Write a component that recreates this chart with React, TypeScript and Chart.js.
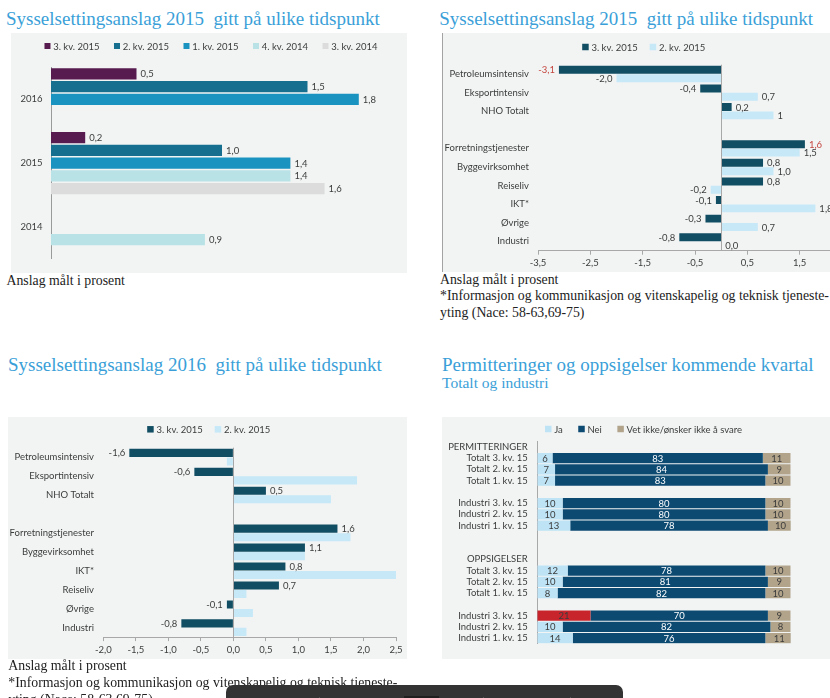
import { useEffect, useRef } from "react";
import { Chart, registerables } from "chart.js";

Chart.register(...registerables);

// ---------------- Chart 1: Sysselsettingsanslag 2015 (vertical groups by year)
const c1Categories = ["2016", "2015", "2014"];
const c1SeriesNames = ["3. kv. 2015", "2. kv. 2015", "1. kv. 2015", "4. kv. 2014", "3. kv. 2014"];
const c1Kv3_2015 = [0.5, 0.2, null];
const c1Kv2_2015 = [1.5, 1.0, null];
const c1Kv1_2015 = [1.8, 1.4, null];
const c1Kv4_2014 = [null, 1.4, 0.9];
const c1Kv3_2014 = [null, 1.6, null];

// ---------------- Chart 2: Sysselsettingsanslag 2015 by sector
const c2Categories = [
  "Petroleumsintensiv", "Eksportintensiv", "NHO Totalt", "",
  "Forretningstjenester", "Byggevirksomhet", "Reiseliv", "IKT*", "Øvrige", "Industri",
];
const c2SeriesNames = ["3. kv. 2015", "2. kv. 2015"];
const c2Kv3 = [-3.1, -0.4, 0.2, null, 1.6, 0.8, 0.8, -0.1, -0.3, -0.8];
const c2Kv2 = [-2.0, 0.7, 1.0, null, 1.5, 1.0, -0.2, 1.8, 0.7, 0.0];
const c2Kv3Labels = ["-3,1", "-0,4", "0,2", "", "1,6", "0,8", "0,8", "-0,1", "-0,3", "-0,8"];
const c2Kv2Labels = ["-2,0", "0,7", "1", "", "1,5", "1,0", "-0,2", "1,8", "0,7", "0,0"];
const c2Kv3RedLabel = [true, false, false, false, true, false, false, false, false, false];
const c2TickValues = [-3.5, -2.5, -1.5, -0.5, 0.5, 1.5, 2.5];

// ---------------- Chart 3: Sysselsettingsanslag 2016 by sector
const c3Categories = [
  "Petroleumsintensiv", "Eksportintensiv", "NHO Totalt", "",
  "Forretningstjenester", "Byggevirksomhet", "IKT*", "Reiseliv", "Øvrige", "Industri",
];
const c3SeriesNames = ["3. kv. 2015", "2. kv. 2015"];
const c3Kv3 = [-1.6, -0.6, 0.5, null, 1.6, 1.1, 0.8, 0.7, -0.1, -0.8];
const c3Kv2 = [-0.1, 1.9, 1.5, null, 1.8, 1.1, 2.5, 0.2, 0.3, 0.2];

// ---------------- Chart 4: Permitteringer og oppsigelser
const c4Categories = [
  "PERMITTERINGER", "Totalt 3. kv. 15", "Totalt 2. kv. 15", "Totalt 1. kv. 15", "",
  "Industri 3. kv. 15", "Industri 2. kv. 15", "Industri 1. kv. 15", "", "",
  "OPPSIGELSER", "Totalt 3. kv. 15", "Totalt 2. kv. 15", "Totalt 1. kv. 15", "",
  "Industri 3. kv. 15", "Industri 2. kv. 15", "Industri 1. kv. 15",
];
const c4SeriesNames = ["Ja", "Nei", "Vet ikke/ønsker ikke å svare"];
const c4Ja = [null, 6, 7, 7, null, 10, 10, 13, null, null, null, 12, 10, 8, null, 21, 10, 14];
const c4Nei = [null, 83, 84, 83, null, 80, 80, 78, null, null, null, 78, 81, 82, null, 70, 82, 76];
const c4Vet = [null, 11, 9, 10, null, 10, 10, 10, null, null, null, 10, 9, 10, null, 9, 8, 11];
const c4JaHighlight = [false, false, false, false, false, false, false, false, false, false,
  false, false, false, false, false, true, false, false];

// ---------------- styles
const TITLE_BLUE = "#3a9fd8";
const PANEL_BG = "#f2f4f4";
const TEXT = "#3c3c3c";
const SANS = "Lato, 'Open Sans', sans-serif";
const SERIF = "'Liberation Serif', 'Times New Roman', serif";
const FONT_PX = 9.5;
const CANVAS_FONT = `${FONT_PX}px ${SANS}`;

const c1Colors = ["#571b50", "#176f8f", "#1a93c0", "#b8e2e6", "#dcdcdc"];
const DARK_TEAL = "#114e63";
const LIGHT_BLUE = "#c6e8f7";
const JA_COLOR = "#bde3f5";
const NEI_COLOR = "#0c4a72";
const VET_COLOR = "#b1a48b";
const RED = "#c8242c";
const LABEL_RED = "#c4463f";

const fmt = (v: number) => v.toFixed(1).replace(".", ",");

// ---------------- plugins
function legendPlugin(cfg: { cx: number; y: number; box: number; gapText: number; gapItem: number; colors: string[] }) {
  return {
    id: "panelLegend",
    afterDraw(chart: any) {
      const ctx = chart.ctx;
      ctx.save();
      ctx.font = CANVAS_FONT;
      ctx.textBaseline = "middle";
      ctx.textAlign = "left";
      const items = chart.data.datasets.map((ds: any, i: number) => ({ text: String(ds.label), color: cfg.colors[i] }));
      const widths = items.map((it: any) => cfg.box + cfg.gapText + ctx.measureText(it.text).width);
      const total = widths.reduce((a: number, b: number) => a + b, 0) + cfg.gapItem * (items.length - 1);
      let x = cfg.cx - total / 2;
      items.forEach((it: any, i: number) => {
        ctx.fillStyle = it.color;
        ctx.fillRect(x, cfg.y - cfg.box / 2, cfg.box, cfg.box);
        ctx.fillStyle = TEXT;
        ctx.fillText(it.text, x + cfg.box + cfg.gapText, cfg.y + 0.5);
        x += widths[i] + cfg.gapItem;
      });
      ctx.restore();
    },
  };
}

function endLabelsPlugin(specs: { dataset: number; texts: string[]; colors: string[] }[], offset = 4) {
  return {
    id: "endLabels",
    afterDatasetsDraw(chart: any) {
      const ctx = chart.ctx;
      ctx.save();
      ctx.font = CANVAS_FONT;
      ctx.textBaseline = "middle";
      specs.forEach((spec) => {
        const meta = chart.getDatasetMeta(spec.dataset);
        const data = chart.data.datasets[spec.dataset].data;
        meta.data.forEach((bar: any, i: number) => {
          const v = data[i];
          const t = spec.texts[i];
          if (v == null || !t) return;
          const neg = v < 0;
          ctx.textAlign = neg ? "right" : "left";
          ctx.fillStyle = spec.colors[i];
          ctx.fillText(t, bar.x + (neg ? -offset : offset), bar.y + 0.5);
        });
      });
      ctx.restore();
    },
  };
}

function centerLabelsPlugin(colors: string[]) {
  return {
    id: "centerLabels",
    afterDatasetsDraw(chart: any) {
      const ctx = chart.ctx;
      ctx.save();
      ctx.font = CANVAS_FONT;
      ctx.textBaseline = "middle";
      ctx.textAlign = "center";
      chart.data.datasets.forEach((ds: any, di: number) => {
        const meta = chart.getDatasetMeta(di);
        meta.data.forEach((bar: any, i: number) => {
          const v = ds.data[i];
          if (v == null) return;
          ctx.fillStyle = colors[di];
          ctx.fillText(String(v), (bar.x + bar.base) / 2, bar.y + 0.5);
        });
      });
      ctx.restore();
    },
  };
}

function zeroLinePlugin(color: string) {
  return {
    id: "zeroLine",
    afterDatasetsDraw(chart: any) {
      const ctx = chart.ctx;
      const x = Math.round(chart.scales.x.getPixelForValue(0)) + 0.5;
      const { top, bottom } = chart.chartArea;
      ctx.save();
      ctx.strokeStyle = color;
      ctx.lineWidth = 1;
      ctx.beginPath();
      ctx.moveTo(x, top);
      ctx.lineTo(x, bottom);
      ctx.stroke();
      ctx.restore();
    },
  };
}

const baseOptions = {
  indexAxis: "y",
  responsive: false,
  maintainAspectRatio: false,
  animation: false,
  events: [],
  plugins: { legend: { display: false }, tooltip: { enabled: false }, title: { display: false } },
};

const catTicks = { font: { family: SANS, size: FONT_PX }, color: TEXT, autoSkip: false };

// ---------------- configs
function config1(): any {
  const series = [c1Kv3_2015, c1Kv2_2015, c1Kv1_2015, c1Kv4_2014, c1Kv3_2014];
  return {
    type: "bar",
    data: {
      labels: c1Categories,
      datasets: series.map((d, i) => ({
        label: c1SeriesNames[i],
        data: d,
        backgroundColor: c1Colors[i],
        categoryPercentage: 1,
        barPercentage: 0.88,
      })),
    },
    options: {
      ...baseOptions,
      layout: { padding: { top: 34.4, right: 14, bottom: 8.5, left: 0 } },
      scales: {
        x: { display: false, min: 0, max: 2 },
        y: {
          grid: { display: false, drawTicks: false },
          border: { display: true, color: "#9a9a9a" },
          ticks: { ...catTicks, padding: 8.5 },
          afterFit: (s: any) => { s.width = 40; },
        },
      },
    },
    plugins: [
      legendPlugin({ cx: 200, y: 13, box: 6, gapText: 2.7, gapItem: 14.5, colors: c1Colors }),
      endLabelsPlugin(series.map((d, i) => ({
        dataset: i,
        texts: d.map((v) => (v == null ? "" : fmt(v))),
        colors: d.map(() => TEXT),
      }))),
    ],
  };
}

function config2(): any {
  return {
    type: "bar",
    data: {
      labels: c2Categories,
      datasets: [
        { label: c2SeriesNames[0], data: c2Kv3, backgroundColor: DARK_TEAL, categoryPercentage: 0.9, barPercentage: 0.95 },
        { label: c2SeriesNames[1], data: c2Kv2, backgroundColor: LIGHT_BLUE, categoryPercentage: 0.9, barPercentage: 0.95 },
      ],
    },
    options: {
      ...baseOptions,
      layout: { padding: { top: 31.7, right: 10, bottom: 0, left: 0 } },
      scales: {
        x: {
          type: "linear",
          min: -3.5,
          max: 2.5,
          afterBuildTicks: (s: any) => { s.ticks = c2TickValues.map((v) => ({ value: v })); },
          ticks: { ...catTicks, padding: 3, maxRotation: 0, callback: (v: any) => fmt(Number(v)) },
          grid: { drawOnChartArea: false, drawTicks: true, tickLength: 4, color: "#a8a8a8" },
          border: { display: true, color: "#a8a8a8" },
          afterFit: (s: any) => { s.height = 21.3; },
        },
        y: {
          grid: { display: false, drawTicks: false },
          border: { display: false },
          ticks: { ...catTicks, padding: 9 },
          afterFit: (s: any) => { s.width = 96; },
        },
      },
    },
    plugins: [
      zeroLinePlugin("#a8a8a8"),
      legendPlugin({ cx: 201.7, y: 14, box: 6.5, gapText: 2.7, gapItem: 12, colors: [DARK_TEAL, LIGHT_BLUE] }),
      endLabelsPlugin([
        { dataset: 0, texts: c2Kv3Labels, colors: c2Kv3RedLabel.map((r) => (r ? LABEL_RED : TEXT)) },
        { dataset: 1, texts: c2Kv2Labels, colors: c2Kv2Labels.map(() => TEXT) },
      ]),
    ],
  };
}

function config3(): any {
  return {
    type: "bar",
    data: {
      labels: c3Categories,
      datasets: [
        { label: c3SeriesNames[0], data: c3Kv3, backgroundColor: DARK_TEAL, categoryPercentage: 0.9, barPercentage: 0.95 },
        { label: c3SeriesNames[1], data: c3Kv2, backgroundColor: LIGHT_BLUE, categoryPercentage: 0.9, barPercentage: 0.95 },
      ],
    },
    options: {
      ...baseOptions,
      layout: { padding: { top: 30.7, right: 11, bottom: 0, left: 0 } },
      scales: {
        x: {
          type: "linear",
          min: -2,
          max: 2.5,
          ticks: { ...catTicks, stepSize: 0.5, padding: 3, maxRotation: 0, callback: (v: any) => fmt(Number(v)) },
          grid: { drawOnChartArea: false, drawTicks: true, tickLength: 4, color: "#a8a8a8" },
          border: { display: true, color: "#a8a8a8" },
          afterFit: (s: any) => { s.height = 21.9; },
        },
        y: {
          grid: { display: false, drawTicks: false },
          border: { display: false },
          ticks: { ...catTicks, padding: 9.3 },
          afterFit: (s: any) => { s.width = 95.3; },
        },
      },
    },
    plugins: [
      zeroLinePlugin("#a8a8a8"),
      legendPlugin({ cx: 200.7, y: 12.3, box: 6.5, gapText: 2.7, gapItem: 12, colors: [DARK_TEAL, LIGHT_BLUE] }),
      endLabelsPlugin([
        { dataset: 0, texts: c3Kv3.map((v) => (v == null ? "" : fmt(v))), colors: c3Kv3.map(() => TEXT) },
      ]),
    ],
  };
}

function config4(): any {
  return {
    type: "bar",
    data: {
      labels: c4Categories,
      datasets: [
        {
          label: c4SeriesNames[0],
          data: c4Ja,
          backgroundColor: (ctx: any) => (ctx.dataIndex != null && c4JaHighlight[ctx.dataIndex] ? RED : JA_COLOR),
          categoryPercentage: 1,
          barPercentage: 0.9,
        },
        { label: c4SeriesNames[1], data: c4Nei, backgroundColor: NEI_COLOR, categoryPercentage: 1, barPercentage: 0.9 },
        { label: c4SeriesNames[2], data: c4Vet, backgroundColor: VET_COLOR, categoryPercentage: 1, barPercentage: 0.9 },
      ],
    },
    options: {
      ...baseOptions,
      layout: { padding: { top: 24.3, right: 53.3, bottom: 9.4, left: 0 } },
      scales: {
        x: { display: false, stacked: true, min: 0, max: 100 },
        y: {
          stacked: true,
          grid: { display: false, drawTicks: false },
          border: { display: true, color: "#a8a8a8" },
          ticks: { ...catTicks, padding: 9.6 },
          afterFit: (s: any) => { s.width = 95.3; },
        },
      },
    },
    plugins: [
      legendPlugin({ cx: 201.5, y: 12, box: 6.5, gapText: 2.7, gapItem: 15.5, colors: [JA_COLOR, NEI_COLOR, VET_COLOR] }),
      centerLabelsPlugin([TEXT, "#ffffff", TEXT]),
    ],
  };
}

// ---------------- layout helpers
const abs = (left: number, top: number, extra: any = {}) => ({ position: "absolute" as const, left, top, ...extra });

function Title({ left, top, size, text }: { left: number; top: number; size: number; text: string }) {
  return (
    <div style={abs(left, top, { fontFamily: SERIF, fontSize: size, lineHeight: 1, color: TITLE_BLUE, whiteSpace: "pre" })}>
      {text}
    </div>
  );
}

function Note({ left, top, lines }: { left: number; top: number; lines: string[] }) {
  return (
    <div style={abs(left, top, { fontFamily: SERIF, fontSize: 13.8, lineHeight: "16.7px", color: "#222", whiteSpace: "pre" })}>
      {lines.map((l, i) => (
        <div key={i}>{l}</div>
      ))}
    </div>
  );
}

export default function App() {
  const r1 = useRef<HTMLCanvasElement>(null);
  const r2 = useRef<HTMLCanvasElement>(null);
  const r3 = useRef<HTMLCanvasElement>(null);
  const r4 = useRef<HTMLCanvasElement>(null);

  useEffect(() => {
    const charts = [
      new Chart(r1.current as HTMLCanvasElement, config1()),
      new Chart(r2.current as HTMLCanvasElement, config2()),
      new Chart(r3.current as HTMLCanvasElement, config3()),
      new Chart(r4.current as HTMLCanvasElement, config4()),
    ];
    return () => charts.forEach((c) => c.destroy());
  }, []);

  const footnote = "*Informasjon og kommunikasjon og vitenskapelig og teknisk tjeneste-";
  const footnote2 = "yting (Nace: 58-63,69-75)";

  return (
    <div style={abs(0, 0, { width: 830, height: 698, overflow: "hidden", background: "#ffffff" })}>
      {/* Chart 1 */}
      <Title left={6} top={9.1} size={19} text={"Sysselsettingsanslag 2015  gitt på ulike tidspunkt"} />
      <div style={abs(11, 33, { width: 396, height: 240, background: PANEL_BG })} />
      <canvas ref={r1} width={396} height={240} style={abs(11, 33, { width: 396, height: 240 })} />
      <Note left={6.5} top={273.4} lines={["Anslag målt i prosent"]} />

      {/* Chart 2 */}
      <Title left={439.3} top={9.1} size={19} text={"Sysselsettingsanslag 2015  gitt på ulike tidspunkt"} />
      <div style={abs(442, 33, { width: 400, height: 239, background: PANEL_BG, borderLeft: "1px solid #a3a3a3", boxSizing: "border-box" })} />
      <canvas ref={r2} width={420} height={239} style={abs(442, 33, { width: 420, height: 239 })} />
      <Note left={440} top={271.7} lines={["Anslag målt i prosent", footnote, footnote2]} />

      {/* Chart 3 */}
      <Title left={8} top={354.8} size={19} text={"Sysselsettingsanslag 2016  gitt på ulike tidspunkt"} />
      <div style={abs(8, 417, { width: 399, height: 242, background: PANEL_BG })} />
      <canvas ref={r3} width={399} height={242} style={abs(8, 417, { width: 399, height: 242 })} />
      <Note left={8.3} top={658.4} lines={["Anslag målt i prosent", footnote, footnote2]} />

      {/* Chart 4 */}
      <Title left={442} top={354.8} size={19} text={"Permitteringer og oppsigelser kommende kvartal"} />
      <Title left={442} top={375.3} size={15.5} text={"Totalt og industri"} />
      <div style={abs(442, 417, { width: 400, height: 242, background: PANEL_BG })} />
      <canvas ref={r4} width={402} height={242} style={abs(442, 417, { width: 402, height: 242 })} />

      {/* overlay toolbar at the bottom of the page */}
      <div style={abs(226, 685, { width: 397, height: 30, background: "#333333", borderRadius: 7 })} />
      <div style={abs(404, 696, { width: 35, height: 10, background: "#1f1f1f" })} />
      <div style={abs(319, 697, { width: 1, height: 5, background: "#555" })} />
      <div style={abs(483, 697, { width: 1, height: 5, background: "#555" })} />
      <div style={abs(570, 697, { width: 1, height: 5, background: "#555" })} />
    </div>
  );
}
